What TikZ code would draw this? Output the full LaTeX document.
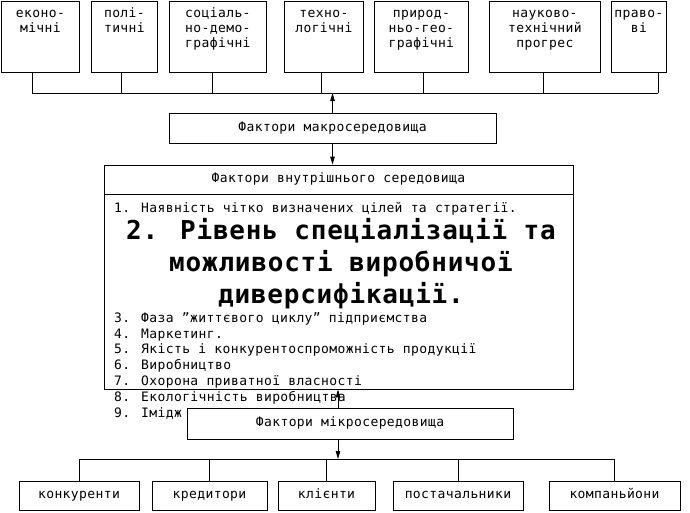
\documentclass[tikz,border=0pt]{standalone}
\usepackage{fontspec}
\setmainfont{DejaVu Sans Mono}[LetterSpace=3]
\usetikzlibrary{positioning,arrows.meta}
\tikzset{
    box/.style={draw,line width=0.8pt,inner sep=3pt,text height=9.5pt,text depth=3pt,font=\fontsize{13}{15}\selectfont},
    topbox/.style={box,anchor=north west,align=center,minimum height=71pt},
    twoline/.style={topbox,text height=28pt,text depth=37pt},
    threeline/.style={topbox,text height=43pt,text depth=22pt},
    lowbox/.style={box,minimum height=29pt},
    link/.style={draw,line width=0.8pt},
    arr/.style={link,-{Triangle[length=8pt,width=4.5pt]}},
    listtext/.style={anchor=base west,align=left,inner sep=0pt,font=\fontsize{13}{15.8}\selectfont},
}

\begin{document}
\begin{tikzpicture}[x=1pt,y=-1pt]
    \useasboundingbox (0,0) rectangle (690,512);

    \node[twoline,minimum width=78pt] (econ) at (1,1) {еконо-\\мічні};
    \node[twoline,minimum width=66pt] (polit) at (91,1) {полі-\\тичні};
    \node[threeline,minimum width=97pt] (social) at (169,1) {соціаль-\\но-демо-\\графічні};
    \node[twoline,minimum width=79pt] (techn) at (284,1) {техно-\\логічні};
    \node[threeline,minimum width=94pt] (nature) at (374,1) {природ-\\ньо-гео-\\графічні};
    \node[threeline,minimum width=111pt] (science) at (489,1) {науково-\\технічний\\прогрес};
    \node[twoline,minimum width=54pt] (law) at (611,1) {право-\\ві};

    \coordinate (tl) at (32,93);
    \coordinate (tr) at (658,93);
    \draw[link] (tl) -- (tr);
    \foreach \n/\x in {econ/32,polit/121,social/212,techn/321,nature/423,science/543,law/658} {
        \coordinate (s) at (\x,93);
        \draw[link] (s) -- (s |- \n.south);
    }

    \node[box,minimum width=327pt,minimum height=30pt] (macro) at (332.5,128) {Фактори макросередовища};
    \draw[arr] (macro.north) -- (macro.north |- tl);

    \node[box,minimum width=469pt,minimum height=224pt] (inner) at (338.5,277) {};
    \node[box,anchor=north,minimum width=469pt,minimum height=29pt] (innerhead) at (inner.north) {Фактори внутрішнього середовища};
    \draw[arr] (macro.south) -- (macro.south |- inner.north);

    \node[listtext] (item1) at (114,212) {1. Наявність чітко визначених цілей та стратегії.};
    \node[anchor=base,align=center,inner sep=0pt,font=\fontsize{26}{32}\selectfont\bfseries] (item2) at (341,303)
        {2. Рівень спеціалізації та\\можливості виробничої\\диверсифікації.};
    \node[listtext] (items) at (114,417) {3. Фаза ”життєвого циклу” підприємства\\4. Маркетинг.\\5. Якість і конкурентоспроможність продукції\\6. Виробництво\\7. Охорона приватної власності\\8. Екологічність виробництва\\9. Імідж};

    \node[box,minimum width=326pt,minimum height=31pt] (micro) at (350,423.5) {Фактори мікросередовища};
    \coordinate (mid) at (338,0);
    \draw[arr] (micro.north -| mid) -- (inner.south -| mid);

    \node[lowbox,minimum width=120pt] (rivals) at (79,495.5) {конкуренти};
    \node[lowbox,minimum width=115pt] (creditors) at (209.5,495.5) {кредитори};
    \node[lowbox,minimum width=97pt] (clients) at (326.5,495.5) {клієнти};
    \node[lowbox,minimum width=130pt] (suppliers) at (458,495.5) {постачальники};
    \node[lowbox,minimum width=131pt] (partners) at (614.5,495.5) {компаньйони};

    \coordinate (bbus) at (0,459);
    \draw[link] (rivals.north |- bbus) -- (partners.north |- bbus);
    \foreach \n in {rivals,creditors,clients,suppliers,partners}
        \draw[link] (\n.north) -- (\n.north |- bbus);
    \draw[arr] (micro.south -| mid) -- (bbus -| mid);
\end{tikzpicture}
\end{document}
